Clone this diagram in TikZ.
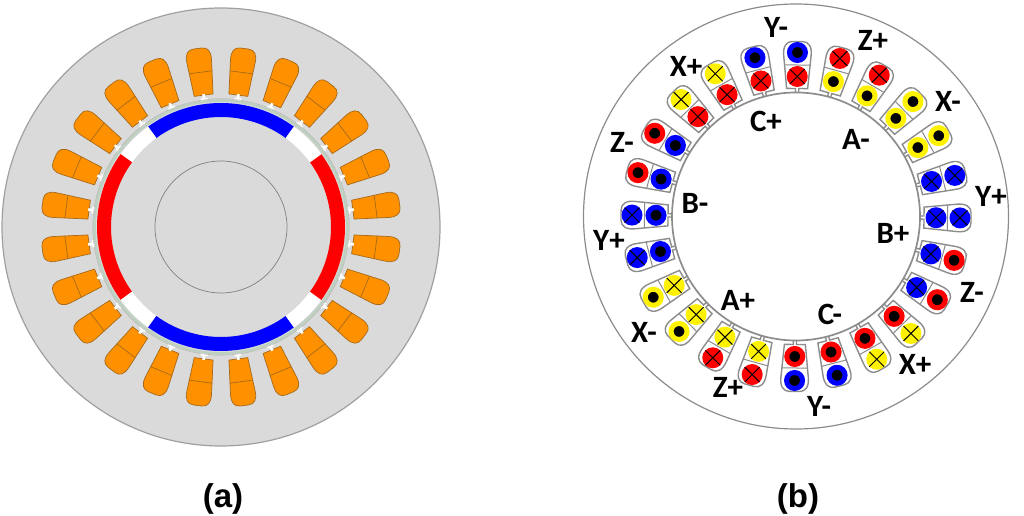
\documentclass[tikz,border=0pt]{standalone}
\usepackage{fontspec}
\setmainfont{Carlito}
\newfontfamily\capfont{Liberation Sans}
\definecolor{corecol}{RGB}{218,218,218}
\definecolor{coreline}{RGB}{160,160,160}
\definecolor{slotcol}{RGB}{255,145,0}
\definecolor{slotline}{RGB}{165,105,25}
\definecolor{ringcol}{RGB}{190,208,192}
\begin{document}
\begin{tikzpicture}[x=1pt, y=1pt]
\tikzset{
  corebody/.style={fill=corecol, draw=coreline, line width=1.2pt},
  slota/.style={fill=slotcol, draw=slotline, line width=0.7pt},
  slotb/.style={fill=white, draw=gray!90, line width=1.4pt},
  crs/.style={circle, fill=#1, minimum size=21pt, inner sep=0pt,
    path picture={\draw[black, line width=1pt] (-10,-10) -- (10,10) (-10,10) -- (10,-10);}},
  dotc/.style={circle, fill=black, draw=#1, line width=5pt, minimum size=16pt, inner sep=0pt},
  wlabel/.style={font=\fontsize{31}{31}\selectfont\bfseries, inner sep=0pt},
  caplabel/.style={font=\capfont\fontsize{33}{33}\selectfont\bfseries, inner sep=0pt}
}
\useasboundingbox (0,0) rectangle (1024,516);
% machine (a)
\begin{scope}[shift={(221,289)}]
  \draw[corebody] (0,0) circle (219);
  \foreach \ang in {0,15,...,345} {
    \begin{scope}[rotate=\ang+7.5]
      \draw[slota] (133,-9.5) -- (167,-12.4) .. controls (176,-13.2) and (180,-10) .. (180,-4) -- (180,4) .. controls (180,10) and (176,13.2) .. (167,12.4) -- (133,9.5) -- cycle;
      \draw[slotline, line width=0.7pt] (156,-11.5) -- (156,11.5);
      \fill[white] (127,-3.5) -- (130,-3.5) -- (130,-1.3) -- (134,-1.3) -- (134,1.3) -- (130,1.3) -- (130,3.5) -- (127,3.5) -- cycle;
    \end{scope}
  }
  \draw[ringcol, line width=2.6pt] (0,0) circle (126.5);
  \draw[gray!60, line width=0.4pt] (0,0) circle (128.2);
  \foreach \st/\en/\col in {54/126/blue, 126/144/white, 144/216/red, 216/234/white, 234/306/blue, 306/324/white, 324/396/red, 396/414/white} {
    \fill[\col] (\st:124) arc[start angle=\st, end angle=\en, radius=124] -- (\en:110) arc[start angle=\en, end angle=\st, radius=110] -- cycle;
  }
  \draw[gray, line width=0.7pt] (0,0) circle (66);
\end{scope}
% machine (b)
\begin{scope}[shift={(796,299.5)}]
  \draw[gray!90, line width=1.2pt] (0,0) circle (212.5);
  \foreach \ang/\oc/\os/\ic/\is in {
    0/blue/crs/blue/crs, 15/blue/crs/blue/crs, 30/yellow/dotc/yellow/dotc, 45/yellow/dotc/yellow/dotc,
    60/red/crs/yellow/dotc, 75/red/crs/yellow/dotc, 90/blue/dotc/red/crs, 105/blue/dotc/red/crs,
    120/yellow/crs/red/crs, 135/yellow/crs/red/crs, 150/red/dotc/blue/dotc, 165/red/dotc/blue/dotc,
    180/blue/crs/blue/dotc, 195/blue/crs/blue/dotc, 210/yellow/dotc/yellow/crs, 225/yellow/dotc/yellow/crs,
    240/red/crs/yellow/crs, 255/red/crs/yellow/crs, 270/blue/dotc/red/dotc, 285/blue/dotc/red/dotc,
    300/yellow/crs/red/dotc, 315/yellow/crs/red/dotc, 330/red/dotc/blue/crs, 345/red/dotc/blue/crs} {
    \begin{scope}[rotate=\ang-0.5]
      \draw[slotb] (124,-1.6) -- (128,-1.6) -- (128,-10.5) -- (161,-13.7) .. controls (170,-14.7) and (175,-11) .. (175,-5) -- (175,5) .. controls (175,11) and (170,14.7) .. (161,13.7) -- (128,10.5) -- (128,1.6) -- (124,1.6);
      \draw[gray!90, line width=1pt] (151.5,-12.8) -- (151.5,12.8);
    \end{scope}
    \node[\os=\oc] (o\ang) at (\ang-0.5:164) {};
    \node[\is=\ic] (i\ang) at (\ang-0.5:140) {};
  }
  \draw[gray!90, line width=1.7pt] (0,0) circle (124);
\end{scope}
% winding labels
\foreach \lab/\lx/\ly [count=\i] in {Y-/776/489, Z+/873/476, X-/948/415, A-/856/377, C+/766/395, X+/686/450,
    Z-/622/374, B-/695/313, B+/893/283, Y+/991/320, Y+/609/276, Z-/972/224,
    X-/644/184, A+/738/216, C-/830/202, X+/915/152, Z+/728/129, Y-/819/110} {
  \node[wlabel] (w\i) at (\lx,\ly) {\lab};
}
\node[caplabel] (capa) at (223,17) {(a)};
\node[caplabel] (capb) at (798,17) {(b)};
\end{tikzpicture}
\end{document}
